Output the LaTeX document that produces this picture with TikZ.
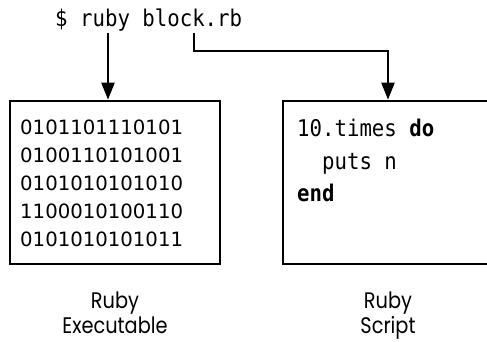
\documentclass[tikz,border=0pt]{standalone}
\usepackage{fontspec}
\setmonofont[FakeStretch=0.9]{DejaVu Sans Mono}
\newfontfamily\bitsfont{DejaVu Sans}
\newfontfamily\capfont[FakeStretch=0.86]{Poppins}
\usetikzlibrary{arrows.meta}

\begin{document}
\begin{tikzpicture}[x=1pt,y=1pt,>={Triangle[length=17pt,width=13pt]},
  panel/.style={draw,line width=2.6pt,minimum width=210pt,minimum height=163pt,inner sep=0pt},
  feed/.style={line width=2.2pt},
  cmdtext/.style={font=\ttfamily\fontsize{23}{26}\selectfont,anchor=base west,inner sep=0pt},
  coderow/.style={cmdtext},
  bitrow/.style={font=\bitsfont\fontsize{19.7}{24}\selectfont,anchor=base west,inner sep=0pt},
  caption/.style={font=\capfont\fontsize{22.5}{25}\selectfont,align=center,anchor=north,inner sep=0pt}]
 \useasboundingbox (0,0) rectangle (487,342);
 \node[cmdtext] (cmd) at (55,315) {\$ ruby block.rb};
 \coordinate (cmdA) at (108,309);
 \coordinate (cmdB) at (194,309);
 \node[panel] (exe) at (115,159.5) {};
 \node[panel] (src) at (388,159.5) {};
 \draw[feed,->] (cmdA) -- (cmdA |- exe.north);
 \draw[feed,->] (cmdB) -- ++(0,-18) -| (src.north);
 % machine code
 \foreach \bits [count=\i] in {0101101110101,0100110101001,0101010101010,1100010100110,0101010101011}
  \node[bitrow] (bits\i) at (20,{207-28*(\i-1)}) {\bits};
 % source
 \node[coderow] (line1) at (297,205) {10.times \textbf{do}};
 \node[coderow] (line2) at (297,172) {\ \ puts n};
 \node[coderow] (line3) at (297,140) {\textbf{end}};
 \node[caption] (exelabel) at (115,50) {Ruby\\Executable};
 \node[caption] (srclabel) at (388,50) {Ruby\\Script};
\end{tikzpicture}
\end{document}
